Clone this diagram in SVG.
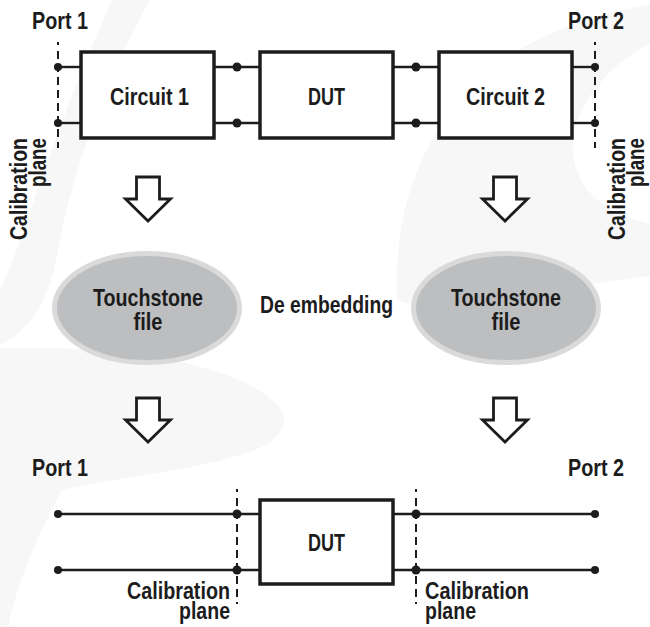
<svg xmlns="http://www.w3.org/2000/svg" width="650" height="627" viewBox="0 0 650 627">
<style>
.t{font-family:"Liberation Sans Narrow","Liberation Sans",Arial,sans-serif;font-weight:bold;font-size:24px;fill:#1c1c1c}
.s{font-size:23px}
.box{fill:#fff;stroke:#1c1c1c;stroke-width:3.5}
.w{stroke:#1c1c1c;stroke-width:2.4;fill:none}
.dash{stroke:#1c1c1c;stroke-width:2;stroke-dasharray:3 6 8 5 8 5 8 5 8 5 8 5 8 5 8 5 8 5;fill:none}
.dot{fill:#1c1c1c}
.arr{fill:#fff;stroke:#1c1c1c;stroke-width:2.8;stroke-linejoin:miter}
.ell{fill:#bdbec0;stroke:#dadada;stroke-width:5}
.bg{fill:#f7f7f7}
</style>
<rect width="650" height="627" fill="#fff"/>
<g id="background">
<path class="bg" d="M0,348 C120,345 235,362 278,405 C292,422 282,440 250,452 C190,472 110,478 62,490 C40,530 18,580 8,627 L0,627 Z"/>
<path class="bg" d="M112,0 L150,0 C110,70 75,160 58,250 C50,300 30,330 0,345 L0,290 C25,240 45,150 112,0 Z"/>
<path class="bg" d="M397,300 C392,200 430,110 510,55 C560,25 610,10 650,5 L650,43 C610,65 578,100 573,140 C570,185 600,212 650,224 L650,276 C560,285 450,320 397,300 Z"/>
</g>

<g id="connectors">
<line class="dash" x1="58" y1="42" x2="58" y2="148"/>
<line class="dash" x1="595" y1="42" x2="595" y2="148"/>
<line class="w" x1="58" y1="67" x2="81" y2="67"/>
<line class="w" x1="58" y1="123" x2="81" y2="123"/>
<line class="w" x1="214" y1="67" x2="260" y2="67"/>
<line class="w" x1="214" y1="123" x2="260" y2="123"/>
<line class="w" x1="393" y1="67" x2="439" y2="67"/>
<line class="w" x1="393" y1="123" x2="439" y2="123"/>
<line class="w" x1="572" y1="67" x2="595" y2="67"/>
<line class="w" x1="572" y1="123" x2="595" y2="123"/>
<circle class="dot" cx="58" cy="67" r="4"/>
<circle class="dot" cx="58" cy="123" r="4"/>
<circle class="dot" cx="237" cy="67" r="4.5"/>
<circle class="dot" cx="237" cy="123" r="4.5"/>
<circle class="dot" cx="416" cy="67" r="4.5"/>
<circle class="dot" cx="416" cy="123" r="4.5"/>
<circle class="dot" cx="595" cy="67" r="4"/>
<circle class="dot" cx="595" cy="123" r="4"/>

<line class="dash" x1="237" y1="489" x2="237" y2="604"/>
<line class="dash" x1="416" y1="489" x2="416" y2="604"/>
<line class="w" x1="58" y1="514" x2="260" y2="514"/>
<line class="w" x1="58" y1="570" x2="260" y2="570"/>
<line class="w" x1="393" y1="514" x2="595" y2="514"/>
<line class="w" x1="393" y1="570" x2="595" y2="570"/>
<circle class="dot" cx="58" cy="514" r="4"/>
<circle class="dot" cx="58" cy="570" r="4"/>
<circle class="dot" cx="237" cy="514" r="4.5"/>
<circle class="dot" cx="237" cy="570" r="4.5"/>
<circle class="dot" cx="416" cy="514" r="4.5"/>
<circle class="dot" cx="416" cy="570" r="4.5"/>
<circle class="dot" cx="595" cy="514" r="4"/>
<circle class="dot" cx="595" cy="570" r="4"/>

<path class="arr" d="M136.5,177 H159.5 V199 H170.5 L148,221 L125.5,199 H136.5 Z"/>
<path class="arr" d="M493.5,177 H516.5 V199 H527.5 L505,221 L482.5,199 H493.5 Z"/>
<path class="arr" d="M136.5,398 H159.5 V420 H170.5 L148,442 L125.5,420 H136.5 Z"/>
<path class="arr" d="M493.5,398 H516.5 V420 H527.5 L505,442 L482.5,420 H493.5 Z"/>
</g>

<g id="circuit1">
<rect class="box" x="81" y="52" width="133" height="86"/>
<text class="t" x="149.5" y="105" text-anchor="middle" textLength="79" lengthAdjust="spacingAndGlyphs">Circuit 1</text>
</g>
<g id="dut-top">
<rect class="box" x="260" y="52" width="133" height="86"/>
<text class="t" x="326.5" y="105" text-anchor="middle" textLength="37" lengthAdjust="spacingAndGlyphs">DUT</text>
</g>
<g id="circuit2">
<rect class="box" x="439" y="52" width="133" height="86"/>
<text class="t" x="505.5" y="105" text-anchor="middle" textLength="79" lengthAdjust="spacingAndGlyphs">Circuit 2</text>
</g>

<g id="touchstone-left">
<ellipse class="ell" cx="147" cy="308" rx="92.5" ry="54.5"/>
<text class="t" x="148" y="306" text-anchor="middle" textLength="110" lengthAdjust="spacingAndGlyphs">Touchstone</text>
<text class="t" x="148" y="330" text-anchor="middle" textLength="29" lengthAdjust="spacingAndGlyphs">file</text>
</g>
<g id="touchstone-right">
<ellipse class="ell" cx="506" cy="308" rx="92.5" ry="54.5"/>
<text class="t" x="506" y="306" text-anchor="middle" textLength="110" lengthAdjust="spacingAndGlyphs">Touchstone</text>
<text class="t" x="506" y="330" text-anchor="middle" textLength="29" lengthAdjust="spacingAndGlyphs">file</text>
</g>

<g id="dut-bottom">
<rect class="box" x="260" y="500" width="133" height="84"/>
<text class="t" x="326.5" y="551" text-anchor="middle" textLength="37" lengthAdjust="spacingAndGlyphs">DUT</text>
</g>

<g id="labels">
<text class="t" x="32" y="29" textLength="56" lengthAdjust="spacingAndGlyphs">Port 1</text>
<text class="t" x="568" y="29" textLength="56" lengthAdjust="spacingAndGlyphs">Port 2</text>
<text class="t s" transform="rotate(-90)" x="-138" y="27" text-anchor="end" textLength="102" lengthAdjust="spacingAndGlyphs">Calibration</text>
<text class="t s" transform="rotate(-90)" x="-138" y="46" text-anchor="end" textLength="49" lengthAdjust="spacingAndGlyphs">plane</text>
<text class="t s" transform="rotate(-90)" x="-138" y="625" text-anchor="end" textLength="102" lengthAdjust="spacingAndGlyphs">Calibration</text>
<text class="t s" transform="rotate(-90)" x="-138" y="644" text-anchor="end" textLength="49" lengthAdjust="spacingAndGlyphs">plane</text>
<text class="t" x="326.5" y="313" text-anchor="middle" textLength="133" lengthAdjust="spacingAndGlyphs">De embedding</text>
<text class="t" x="32" y="476" textLength="56" lengthAdjust="spacingAndGlyphs">Port 1</text>
<text class="t" x="568" y="476" textLength="56" lengthAdjust="spacingAndGlyphs">Port 2</text>
<text class="t s" x="230" y="599" text-anchor="end" textLength="103" lengthAdjust="spacingAndGlyphs">Calibration</text>
<text class="t s" x="230" y="619" text-anchor="end" textLength="51" lengthAdjust="spacingAndGlyphs">plane</text>
<text class="t s" x="425" y="599" textLength="104" lengthAdjust="spacingAndGlyphs">Calibration</text>
<text class="t s" x="425" y="619" textLength="51" lengthAdjust="spacingAndGlyphs">plane</text>
</g>
</svg>
